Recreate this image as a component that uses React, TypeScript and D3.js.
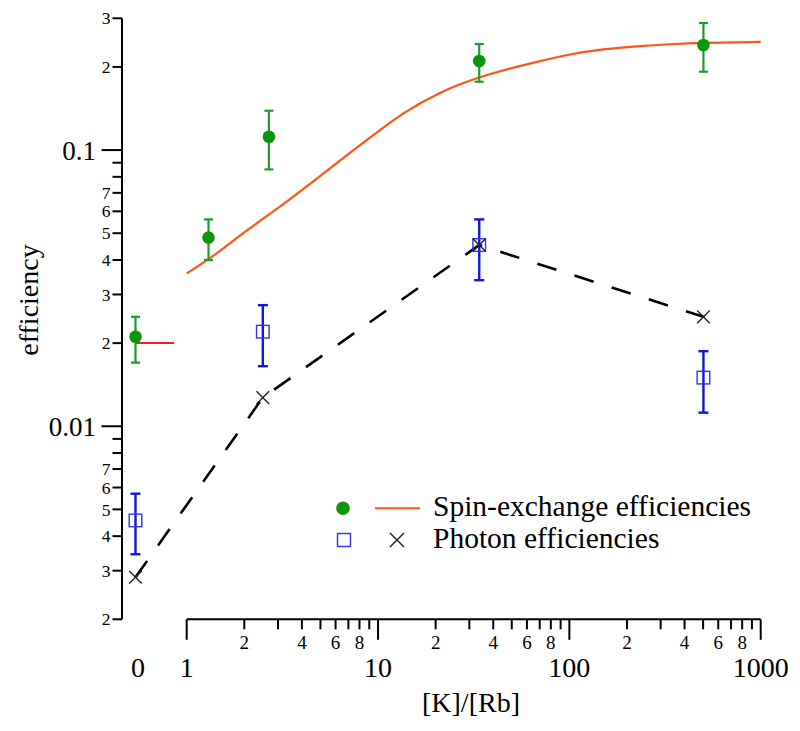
import React from "react";
import * as d3 from "d3";

const W = 800;
const H = 731;

// Spin-exchange efficiency measurements ([K]/[Rb] = 0 is drawn in the "0" column)
const seX = [0, 1.3, 2.69, 33.8, 502];
const seY = [0.0211, 0.0482, 0.1117, 0.2101, 0.2401];
const seLo = [0.017, 0.04, 0.0851, 0.1768, 0.1922];
const seHi = [0.0249, 0.0561, 0.1388, 0.2421, 0.2884];

// Photon efficiency measurements
const phX = [0, 2.5, 33.8, 502];
const phY = [0.00456, 0.022, 0.0453, 0.015];
const phLo = [0.00344, 0.0165, 0.0338, 0.0112];
const phHi = [0.0057, 0.02745, 0.0561, 0.0187];

// Photon efficiency (calculated, crosses + dashed line)
const calcX = [0, 2.5, 33.8, 502];
const calcY = [0.00284, 0.0127, 0.0453, 0.0249];

// Spin-exchange model curve
const curveX = [1, 1.3, 2.06, 3.07, 4.59, 6.86, 10.24, 13.56, 20.27, 34.1, 67.5, 100.9, 150.6, 225, 336, 502, 1000];
const curveY = [0.0358, 0.04, 0.0513, 0.0623, 0.0768, 0.0959, 0.1182, 0.1365, 0.1605, 0.1854, 0.2088, 0.2227, 0.2321, 0.2379, 0.2419, 0.2445, 0.2466];

// Rb-only value (red segment in the "0" column)
const rbOnly = 0.02;

// Axis ticks
const yMajorTicks = [0.01, 0.1];
const yMajorLabels = ["0.01", "0.1"];
const yMinorTicks = [0.002, 0.003, 0.004, 0.005, 0.006, 0.007, 0.008, 0.009, 0.02, 0.03, 0.04, 0.05, 0.06, 0.07, 0.08, 0.09, 0.2, 0.3];
const yMinorLabels = ["2", "3", "4", "5", "6", "7", "", "", "2", "3", "4", "5", "6", "7", "", "", "2", "3"];

const xMajorTicks = [1, 10, 100, 1000];
const xMajorLabels = ["1", "10", "100", "1000"];
const xMinorTicks = [2, 3, 4, 5, 6, 7, 8, 9, 20, 30, 40, 50, 60, 70, 80, 90, 200, 300, 400, 500, 600, 700, 800, 900];
const xMinorLabels = ["2", "", "4", "", "6", "", "8", "", "2", "", "4", "", "6", "", "8", "", "2", "", "4", "", "6", "", "8", ""];

const legendLabels = ["Spin-exchange efficiencies", "Photon efficiencies"];

const FONT = "'Liberation Serif', 'Times New Roman', serif";
const GREEN = "#0a960a";
const GREEN_ERR = "#1f9a2f";
const ORANGE = "#ff5514";
const RED = "#ee1c24";
const BLUE = "#1414dc";
const BLUE_SQ = "#3333e6";
const CROSS = "#222";

export default function App() {
  const x = d3.scaleLog().domain([1, 1000]).range([186.7, 760.7]);
  const xZero = d3.scaleLinear().domain([0, 1]).range([135.5, 174]);
  const y = d3.scaleLog().domain([0.002, 0.3]).range([619.3, 18.3]);
  const px = (v: number) => (v === 0 ? xZero(0) : x(v));

  const axisY = 122;
  const xAxisY = 619.3;

  const curveLine = d3
    .line<number>()
    .x((_, i) => x(curveX[i]))
    .y((d) => y(d))
    .curve(d3.curveBasis)(curveY) as string;

  const dashLine = d3
    .line<number>()
    .x((_, i) => px(calcX[i]))
    .y((d) => y(d))(calcY) as string;

  const cross = (cx: number, cy: number, s: number, key: string) => (
    <g key={key} stroke={CROSS} strokeWidth={1.4}>
      <line x1={cx - s} y1={cy - s} x2={cx + s} y2={cy + s} />
      <line x1={cx - s} y1={cy + s} x2={cx + s} y2={cy - s} />
    </g>
  );

  return (
    <svg
      width={W}
      height={H}
      style={{ position: "absolute", left: 0, top: 0, background: "#fff" }}
      fontFamily={FONT}
    >
      <rect width={W} height={H} fill="#fff" />

      {/* Y axis */}
      <line x1={axisY} x2={axisY} y1={y(0.3)} y2={y(0.002)} stroke="#000" strokeWidth={2} />
      {yMajorTicks.map((t, i) => (
        <g key={"ymj" + i}>
          <line x1={axisY - 20.5} x2={axisY} y1={y(t)} y2={y(t)} stroke="#000" strokeWidth={2} />
          <text x={axisY - 26} y={y(t)} dy="0.35em" textAnchor="end" fontSize={27}>
            {yMajorLabels[i]}
          </text>
        </g>
      ))}
      {yMinorTicks.map((t, i) => (
        <g key={"ymn" + i}>
          <line x1={axisY - 9.5} x2={axisY} y1={y(t)} y2={y(t)} stroke="#000" strokeWidth={2} />
          {yMinorLabels[i] && (
            <text x={axisY - 11.5} y={y(t)} dy="0.35em" textAnchor="end" fontSize={17.5}>
              {yMinorLabels[i]}
            </text>
          )}
        </g>
      ))}

      {/* X axis */}
      <line x1={x(1)} x2={x(1000)} y1={xAxisY} y2={xAxisY} stroke="#000" strokeWidth={2} />
      {xMajorTicks.map((t, i) => (
        <g key={"xmj" + i}>
          <line x1={x(t)} x2={x(t)} y1={xAxisY} y2={xAxisY + 20.5} stroke="#000" strokeWidth={2} />
          <text x={x(t)} y={676.5} textAnchor="middle" fontSize={28}>
            {xMajorLabels[i]}
          </text>
        </g>
      ))}
      {xMinorTicks.map((t, i) => (
        <g key={"xmn" + i}>
          <line x1={x(t)} x2={x(t)} y1={xAxisY} y2={xAxisY + 10} stroke="#000" strokeWidth={2} />
          {xMinorLabels[i] && (
            <text x={x(t)} y={648.5} textAnchor="middle" fontSize={19}>
              {xMinorLabels[i]}
            </text>
          )}
        </g>
      ))}
      <text x={138} y={676.5} textAnchor="middle" fontSize={28}>
        0
      </text>

      {/* Axis titles */}
      <text x={471} y={712} textAnchor="middle" fontSize={28}>
        [K]/[Rb]
      </text>
      <text transform={`translate(38,300) rotate(-90)`} textAnchor="middle" fontSize={28}>
        efficiency
      </text>

      {/* Rb-only segment */}
      <line x1={xZero(0)} x2={xZero(1)} y1={y(rbOnly)} y2={y(rbOnly)} stroke={RED} strokeWidth={2} />

      {/* Model curve */}
      <path d={curveLine} fill="none" stroke={ORANGE} strokeWidth={2.2} />

      {/* Dashed calc line */}
      <path d={dashLine} fill="none" stroke="#000" strokeWidth={2.6} strokeDasharray="20,19" />

      {/* Spin-exchange error bars & points */}
      {seX.map((v, i) => {
        const cx = px(v);
        return (
          <g key={"se" + i}>
            <line x1={cx} x2={cx} y1={y(seLo[i])} y2={y(seHi[i])} stroke={GREEN_ERR} strokeWidth={2.2} />
            <line x1={cx - 4.5} x2={cx + 4.5} y1={y(seLo[i])} y2={y(seLo[i])} stroke={GREEN_ERR} strokeWidth={2.2} />
            <line x1={cx - 4.5} x2={cx + 4.5} y1={y(seHi[i])} y2={y(seHi[i])} stroke={GREEN_ERR} strokeWidth={2.2} />
            <circle cx={cx} cy={y(seY[i])} r={6.3} fill={GREEN} />
          </g>
        );
      })}

      {/* Photon error bars & squares */}
      {phX.map((v, i) => {
        const cx = px(v);
        return (
          <g key={"ph" + i}>
            <line x1={cx} x2={cx} y1={y(phLo[i])} y2={y(phHi[i])} stroke={BLUE} strokeWidth={2.4} />
            <line x1={cx - 5} x2={cx + 5} y1={y(phLo[i])} y2={y(phLo[i])} stroke={BLUE} strokeWidth={2.4} />
            <line x1={cx - 5} x2={cx + 5} y1={y(phHi[i])} y2={y(phHi[i])} stroke={BLUE} strokeWidth={2.4} />
            <rect x={cx - 6.3} y={y(phY[i]) - 6.3} width={12.6} height={12.6} fill="none" stroke={BLUE_SQ} strokeWidth={1.4} />
          </g>
        );
      })}

      {/* Crosses */}
      {calcX.map((v, i) => cross(px(v), y(calcY[i]), 6.3, "cx" + i))}

      {/* Legend */}
      <circle cx={343} cy={508.3} r={6.8} fill={GREEN} />
      <line x1={375} x2={420} y1={508.3} y2={508.3} stroke={ORANGE} strokeWidth={2} />
      <text x={433} y={516} fontSize={29.5}>
        {legendLabels[0]}
      </text>
      <rect x={337.5} y={533.5} width={13} height={13} fill="none" stroke={BLUE_SQ} strokeWidth={1.4} />
      {cross(397, 540, 7, "lgx")}
      <text x={433} y={548} fontSize={29.5}>
        {legendLabels[1]}
      </text>
    </svg>
  );
}
